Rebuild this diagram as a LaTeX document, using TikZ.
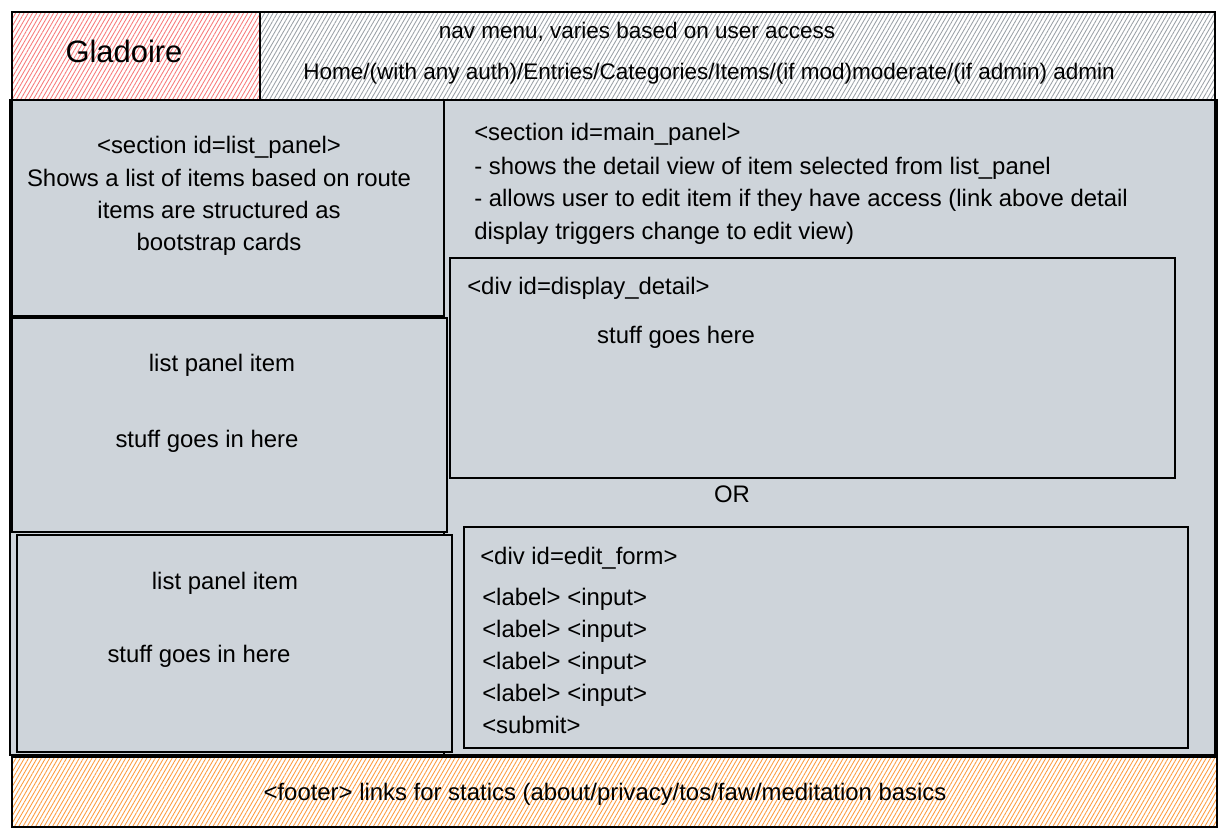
\documentclass[tikz,border=0pt]{standalone}
\usepackage{fontspec}
\setmainfont{Liberation Sans}
\usepackage{tikz}
\usetikzlibrary{patterns.meta}

\definecolor{panelgray}{HTML}{CED4DA}
\definecolor{logored}{HTML}{F87878}
\definecolor{navgray}{HTML}{9AA0A6}
\definecolor{footorange}{HTML}{FD9A3C}

\tikzset{
  wire/.style={draw=black,line width=0.35mm},
  hatch/.style={pattern={Lines[angle=60,distance=2.6pt,line width=0.6pt]},pattern color=#1},
  txt/.style={font=\fontsize{17}{19}\selectfont,inner sep=0pt,anchor=mid},
  ltxt/.style={txt,anchor=mid west}
}

\begin{document}
\begin{tikzpicture}[x=0.25mm,y=-0.25mm]
\useasboundingbox (0,0) rectangle (1227,837);
\fill[white] (0,0) rectangle (1227,837);

% header
\draw[wire,hatch=logored] (12,12) rectangle (260,100);
\draw[wire,hatch=navgray] (260,12) rectangle (1215,100);

% body
\draw[wire,fill=panelgray] (10,100) rectangle (1217,755);
\draw[wire,fill=panelgray] (444,100) rectangle (1215,755);
\draw[wire,fill=panelgray] (12,100) rectangle (444,316);
\draw[wire,fill=panelgray] (12,318) rectangle (447,532);
\draw[wire,fill=panelgray] (17,535) rectangle (452,752);
\draw[wire] (450,258) rectangle (1175,478);
\draw[wire] (464,527) rectangle (1188,748);

% footer
\draw[wire,hatch=footorange] (12,757) rectangle (1217,827);

\node[txt,font=\fontsize{22}{24}\selectfont] (logo) at (124,59) {Gladoire};
\node[txt,font=\fontsize{16}{18}\selectfont] (navtitle) at (637,35) {nav menu, varies based on user access};
\node[txt,font=\fontsize{16}{18}\selectfont] (navlinks) at (709,76) {Home/(with any auth)/Entries/Categories/Items/(if mod)moderate/(if admin) admin};

\node[txt] (list1) at (219,150) {<section id=list\_panel>};
\node[txt] (list2) at (219,183) {Shows a list of items based on route};
\node[txt] (list3) at (219,215) {items are structured as};
\node[txt] (list4) at (219,247) {bootstrap cards};

\node[txt] (itema) at (222,368) {list panel item};
\node[txt] (stuffa) at (207,444) {stuff goes in here};
\node[txt] (itemb) at (225,586) {list panel item};
\node[txt] (stuffb) at (199,659) {stuff goes in here};

\node[ltxt] (main1) at (474,137) {<section id=main\_panel>};
\node[ltxt] (main2) at (474,171) {- shows the detail view of item selected from list\_panel};
\node[ltxt] (main3) at (474,203) {- allows user to edit item if they have access (link above detail};
\node[ltxt] (main4) at (474,236) {display triggers change to edit view)};

\node[ltxt] (detail) at (467,291) {<div id=display\_detail>};
\node[txt] (detailstuff) at (676,340) {stuff goes here};
\node[txt] (or) at (732,499) {OR};

\node[ltxt] (form) at (480,561) {<div id=edit\_form>};
\foreach \y [count=\i] in {602,634,666,698}
  \node[ltxt] (field\i) at (482,\y) {<label> <input>};
\node[ltxt] (submit) at (482,730) {<submit>};

\node[txt] (foot) at (605,797) {<footer> links for statics (about/privacy/tos/faw/meditation basics};
\end{tikzpicture}
\end{document}
